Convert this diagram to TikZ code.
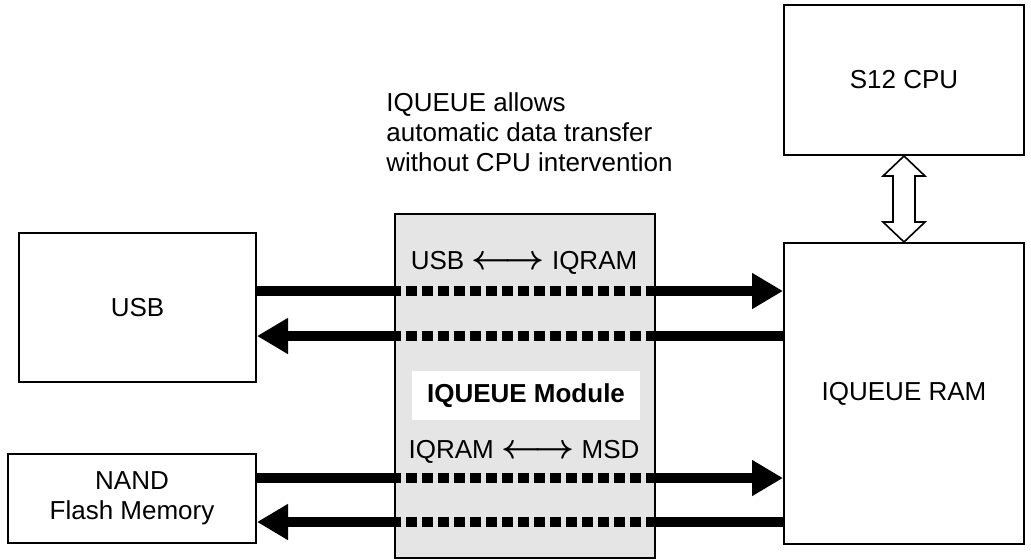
\documentclass[tikz,border=0pt]{standalone}
\usepackage{fontspec}
\usepackage{graphicx}
\setmainfont{Liberation Sans}
\usetikzlibrary{positioning}
\usetikzlibrary{arrows.meta}

\newcommand{\biarrow}{\scalebox{1.45}{\boldmath$\longleftrightarrow$}}

\begin{document}
\begin{tikzpicture}[
                x=0.5pt, y=-0.5pt,
                blocknode/.style={rectangle, draw=black, line width=1pt, inner sep=0pt, align=center, font=\fontsize{13}{15}\selectfont},
                modulenode/.style={rectangle, draw=black, fill=black!10, line width=1pt, inner sep=0pt},
                labelnode/.style={inner sep=0pt, font=\fontsize{13}{15}\selectfont},
                busline/.style={line width=4.6pt, -{Triangle[length=15.5pt, width=17pt]}},
                busgap/.style={line width=5.4pt, draw=black!10, dash pattern=on 2.5pt off 5.5pt},
                ]
                \useasboundingbox (0,0) rectangle (1031,559);

                \node[modulenode, minimum width=130pt, minimum height=172pt] (module) at (525,386) {};
                \node[blocknode, minimum width=120pt, minimum height=150.5pt] (ram) at (904,393.5) {IQUEUE RAM};
                \node[blocknode, minimum width=120pt, minimum height=75pt, above=43pt of ram] (cpu) {S12 CPU};
                \node[blocknode, minimum width=118.5pt, minimum height=74.5pt] (usb) at (137.5,307.5) {USB};
                \node[blocknode, minimum width=124pt, minimum height=44.5pt] (nand) at (132,498.5) {NAND\\Flash Memory};

                \node[labelnode, fill=white, minimum width=114pt, minimum height=24.5pt, font=\fontsize{13}{15}\selectfont\bfseries] (modlabel) at (526,395.5) {IQUEUE Module};
                \node[labelnode] (usbiq) at (524,263) {USB \biarrow{} IQRAM};
                \node[labelnode] (iqmsd) at (524,452) {IQRAM \biarrow{} MSD};
                \node[labelnode, align=left, anchor=north west] (note) at (386,92) {IQUEUE allows\\automatic data transfer\\without CPU intervention};

                % bus levels
                \coordinate (busA) at (0,291);
                \coordinate (busB) at (0,336);
                \coordinate (busC) at (0,478);
                \coordinate (busD) at (0,522);
                \coordinate (gapL) at ([xshift=3.5pt]module.west);
                \coordinate (gapR) at ([xshift=-4pt]module.east);

                \draw[busline] (usb.east |- busA) -- (ram.west |- busA);
                \draw[busline] (ram.west |- busB) -- (usb.east |- busB);
                \draw[busline] (nand.east |- busC) -- (ram.west |- busC);
                \draw[busline] (ram.west |- busD) -- (nand.east |- busD);

                \foreach \bus in {busA, busB, busC, busD}
                    \draw[busgap] (gapL |- \bus) -- (gapR |- \bus);

                % hollow double arrow
                \draw[line width=0.8pt, fill=white] (cpu.south) -- ++(21,20) -- ++(-10,0) -- ++(0,46) -- ++(10,0) -- (ram.north)
                    -- ++(-21,-20) -- ++(10,0) -- ++(0,-46) -- ++(-10,0) -- cycle;
            \end{tikzpicture}
\end{document}
